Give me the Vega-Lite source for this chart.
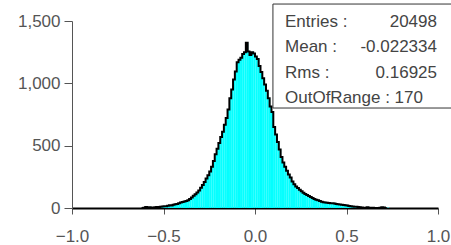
{
  "$schema": "https://vega.github.io/schema/vega-lite/v6.json",
  "autosize": "none",
  "width": 366,
  "height": 187,
  "padding": {"left": 72, "top": 21, "right": 13, "bottom": 37},
  "background": "white",
  "config": {"view": {"stroke": null}, "font": "Liberation Sans"},
  "datasets": {
    "hist": [
      {"a":-0.62,"b":-0.61,"n":0},{"a":-0.61,"b":-0.60,"n":3},{"a":-0.60,"b":-0.59,"n":8},{"a":-0.59,"b":-0.58,"n":5},
      {"a":-0.58,"b":-0.57,"n":7},{"a":-0.57,"b":-0.56,"n":3},{"a":-0.56,"b":-0.55,"n":4},{"a":-0.55,"b":-0.54,"n":6},
      {"a":-0.54,"b":-0.53,"n":8},{"a":-0.53,"b":-0.52,"n":7},{"a":-0.52,"b":-0.51,"n":11},{"a":-0.51,"b":-0.50,"n":12},
      {"a":-0.50,"b":-0.49,"n":15},{"a":-0.49,"b":-0.48,"n":14},{"a":-0.48,"b":-0.47,"n":19},{"a":-0.47,"b":-0.46,"n":22},
      {"a":-0.46,"b":-0.45,"n":21},{"a":-0.45,"b":-0.44,"n":27},{"a":-0.44,"b":-0.43,"n":30},{"a":-0.43,"b":-0.42,"n":33},
      {"a":-0.42,"b":-0.41,"n":38},{"a":-0.41,"b":-0.40,"n":44},{"a":-0.40,"b":-0.39,"n":49},{"a":-0.39,"b":-0.38,"n":53},
      {"a":-0.38,"b":-0.37,"n":56},{"a":-0.37,"b":-0.36,"n":63},{"a":-0.36,"b":-0.35,"n":72},{"a":-0.35,"b":-0.34,"n":84},
      {"a":-0.34,"b":-0.33,"n":98},{"a":-0.33,"b":-0.32,"n":110},{"a":-0.32,"b":-0.31,"n":124},{"a":-0.31,"b":-0.30,"n":140},
      {"a":-0.30,"b":-0.29,"n":162},{"a":-0.29,"b":-0.28,"n":185},{"a":-0.28,"b":-0.27,"n":208},{"a":-0.27,"b":-0.26,"n":236},
      {"a":-0.26,"b":-0.25,"n":262},{"a":-0.25,"b":-0.24,"n":292},{"a":-0.24,"b":-0.23,"n":330},{"a":-0.23,"b":-0.22,"n":378},
      {"a":-0.22,"b":-0.21,"n":432},{"a":-0.21,"b":-0.20,"n":475},{"a":-0.20,"b":-0.19,"n":522},{"a":-0.19,"b":-0.18,"n":570},
      {"a":-0.18,"b":-0.17,"n":612},{"a":-0.17,"b":-0.16,"n":668},{"a":-0.16,"b":-0.15,"n":722},{"a":-0.15,"b":-0.14,"n":790},
      {"a":-0.14,"b":-0.13,"n":880},{"a":-0.13,"b":-0.12,"n":950},{"a":-0.12,"b":-0.11,"n":1030},{"a":-0.11,"b":-0.10,"n":1095},
      {"a":-0.10,"b":-0.09,"n":1170},{"a":-0.09,"b":-0.08,"n":1190},{"a":-0.08,"b":-0.07,"n":1205},{"a":-0.07,"b":-0.06,"n":1235},
      {"a":-0.06,"b":-0.05,"n":1250},{"a":-0.05,"b":-0.04,"n":1325},{"a":-0.04,"b":-0.03,"n":1255},{"a":-0.03,"b":-0.02,"n":1228},
      {"a":-0.02,"b":-0.01,"n":1250},{"a":-0.01,"b":0.00,"n":1240},{"a":0.00,"b":0.01,"n":1215},{"a":0.01,"b":0.02,"n":1195},
      {"a":0.02,"b":0.03,"n":1140},{"a":0.03,"b":0.04,"n":1090},{"a":0.04,"b":0.05,"n":1040},{"a":0.05,"b":0.06,"n":990},
      {"a":0.06,"b":0.07,"n":940},{"a":0.07,"b":0.08,"n":880},{"a":0.08,"b":0.09,"n":815},{"a":0.09,"b":0.10,"n":770},
      {"a":0.10,"b":0.11,"n":650},{"a":0.11,"b":0.12,"n":590},{"a":0.12,"b":0.13,"n":530},{"a":0.13,"b":0.14,"n":470},
      {"a":0.14,"b":0.15,"n":410},{"a":0.15,"b":0.16,"n":365},{"a":0.16,"b":0.17,"n":330},{"a":0.17,"b":0.18,"n":298},
      {"a":0.18,"b":0.19,"n":268},{"a":0.19,"b":0.20,"n":245},{"a":0.20,"b":0.21,"n":212},{"a":0.21,"b":0.22,"n":190},
      {"a":0.22,"b":0.23,"n":172},{"a":0.23,"b":0.24,"n":160},{"a":0.24,"b":0.25,"n":146},{"a":0.25,"b":0.26,"n":135},
      {"a":0.26,"b":0.27,"n":122},{"a":0.27,"b":0.28,"n":112},{"a":0.28,"b":0.29,"n":104},{"a":0.29,"b":0.30,"n":96},
      {"a":0.30,"b":0.31,"n":88},{"a":0.31,"b":0.32,"n":80},{"a":0.32,"b":0.33,"n":72},{"a":0.33,"b":0.34,"n":66},
      {"a":0.34,"b":0.35,"n":62},{"a":0.35,"b":0.36,"n":56},{"a":0.36,"b":0.37,"n":51},{"a":0.37,"b":0.38,"n":47},
      {"a":0.38,"b":0.39,"n":45},{"a":0.39,"b":0.40,"n":43},{"a":0.40,"b":0.41,"n":41},{"a":0.41,"b":0.42,"n":39},
      {"a":0.42,"b":0.43,"n":38},{"a":0.43,"b":0.44,"n":36},{"a":0.44,"b":0.45,"n":33},{"a":0.45,"b":0.46,"n":30},
      {"a":0.46,"b":0.47,"n":29},{"a":0.47,"b":0.48,"n":26},{"a":0.48,"b":0.49,"n":24},{"a":0.49,"b":0.50,"n":22},
      {"a":0.50,"b":0.51,"n":20},{"a":0.51,"b":0.52,"n":17},{"a":0.52,"b":0.53,"n":14},{"a":0.53,"b":0.54,"n":13},
      {"a":0.54,"b":0.55,"n":11},{"a":0.55,"b":0.56,"n":10},{"a":0.56,"b":0.57,"n":8},{"a":0.57,"b":0.58,"n":6},
      {"a":0.58,"b":0.59,"n":4},{"a":0.59,"b":0.60,"n":3},{"a":0.60,"b":0.61,"n":2},{"a":0.61,"b":0.62,"n":6},
      {"a":0.62,"b":0.63,"n":2},{"a":0.63,"b":0.64,"n":1},{"a":0.64,"b":0.65,"n":2},{"a":0.65,"b":0.66,"n":0},
      {"a":0.66,"b":0.67,"n":1},{"a":0.67,"b":0.68,"n":0},{"a":0.68,"b":0.69,"n":3},{"a":0.69,"b":0.70,"n":6},
      {"a":0.70,"b":0.71,"n":4},{"a":0.71,"b":0.72,"n":0},{"a":0.72,"b":0.73,"n":0}
    ]
  },
  "layer": [
    {
      "data": {"name": "hist"},
      "mark": {"type": "bar", "color": "#00FFFF", "stroke": "#00FFFF", "strokeWidth": 1, "clip": true},
      "encoding": {
        "x": {"field": "a", "type": "quantitative", "bin": "binned",
              "scale": {"domain": [-1, 1], "nice": false},
              "axis": {"values": [-1, -0.5, 0, 0.5, 1], "format": ".1f", "title": null, "grid": false,
                       "domainColor": "#000", "domainWidth": 2, "tickColor": "#555", "tickSize": 6,
                       "labelFontSize": 17, "labelColor": "#555", "labelPadding": 14, "labelFlush": false}},
        "x2": {"field": "b"},
        "y": {"field": "n", "type": "quantitative",
              "scale": {"domain": [0, 1500], "nice": false},
              "axis": {"values": [0, 500, 1000, 1500], "format": ",.0f", "title": null, "grid": false,
                       "domainColor": "#555", "tickColor": "#555", "tickSize": 8,
                       "labelFontSize": 17, "labelColor": "#555", "labelPadding": 4}}
      }
    },
    {
      "data": {"name": "hist"},
      "mark": {"type": "line", "color": "#000", "strokeWidth": 2, "interpolate": "step-after"},
      "encoding": {
        "x": {"field": "a", "type": "quantitative"},
        "y": {"field": "n", "type": "quantitative"}
      }
    },
    {
      "data": {"values": [{}]},
      "mark": {"type": "rect", "fill": "white", "stroke": "#333", "strokeWidth": 1, "clip": false},
      "encoding": {
        "x": {"datum": 0.098}, "x2": {"datum": 1.12},
        "y": {"datum": 802}, "y2": {"datum": 1636}
      }
    },
    {
      "data": {"values": [{}]},
      "mark": {"type": "text", "text": ["Entries :", "Mean :", "Rms :", "OutOfRange : 170"],
               "align": "left", "baseline": "alphabetic", "lineHeight": 25.5, "fontSize": 17, "color": "#444", "clip": false},
      "encoding": {"x": {"datum": 0.164}, "y": {"datum": 1452}}
    },
    {
      "data": {"values": [{}]},
      "mark": {"type": "text", "text": ["20498", "-0.022334", "0.16925"],
               "align": "right", "baseline": "alphabetic", "lineHeight": 25.5, "fontSize": 17, "color": "#444", "clip": false},
      "encoding": {"x": {"datum": 0.9945}, "y": {"datum": 1452}}
    }
  ]
}
